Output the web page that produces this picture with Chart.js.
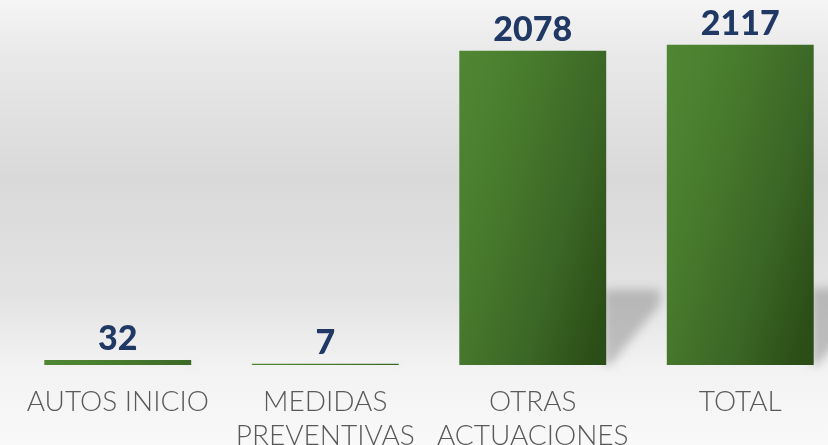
<!DOCTYPE html>
<html>
<head>
<meta charset="utf-8">
<script src="https://cdn.jsdelivr.net/npm/chart.js@4/dist/chart.umd.min.js"></script>
<style>
  html, body { margin: 0; padding: 0; overflow: hidden; background: #f5f5f5; }
  #wrap { width: 828px; height: 445px; overflow: hidden; }
</style>
</head>
<body>
<div id="wrap"><canvas id="myChart" width="844" height="473"></canvas></div>
<script>
// datos del gráfico
const categories = [['AUTOS INICIO'], ['MEDIDAS', 'PREVENTIVAS'], ['OTRAS', 'ACTUACIONES'], ['TOTAL']];
const values = [32, 7, 2078, 2117];

// fondo degradado gris
const backgroundPlugin = {
  id: 'fondo',
  beforeDraw(chart) {
    const ctx = chart.ctx;
    const h = 445;
    const g = ctx.createLinearGradient(0, 0, 0, h);
    g.addColorStop(0, '#f5f5f5');
    g.addColorStop(0.12, '#e9e9e9');
    g.addColorStop(0.40, '#d9d9d9');
    g.addColorStop(0.67, '#e3e3e3');
    g.addColorStop(0.82, '#f2f2f2');
    g.addColorStop(1, '#f9f9f9');
    ctx.save();
    ctx.fillStyle = g;
    ctx.fillRect(0, 0, chart.width, chart.height);
    ctx.restore();
  }
};

// sombra proyectada a la derecha de cada barra
const shadowPlugin = {
  id: 'sombra',
  beforeDatasetsDraw(chart) {
    const ctx = chart.ctx;
    const meta = chart.getDatasetMeta(0);
    ctx.save();
    ctx.filter = 'blur(5px)';
    ctx.fillStyle = 'rgba(140,140,140,0.5)';
    meta.data.forEach(bar => {
      const right = bar.x + bar.width / 2;
      const hgt = bar.base - bar.y;
      const sh = hgt * 0.24;
      const sw = hgt * 0.17;
      ctx.beginPath();
      ctx.moveTo(right - 2, bar.base);
      ctx.lineTo(right - 2, bar.base - sh);
      ctx.lineTo(right + sw, bar.base - sh);
      ctx.lineTo(right + sw, bar.base - sh * 0.8);
      ctx.lineTo(right + 4, bar.base);
      ctx.closePath();
      ctx.fill();
    });
    ctx.restore();
  }
};

// etiquetas de valor encima de las barras
const labelPlugin = {
  id: 'valores',
  afterDatasetsDraw(chart) {
    const ctx = chart.ctx;
    const meta = chart.getDatasetMeta(0);
    ctx.save();
    ctx.fillStyle = '#1f3864';
    ctx.font = '900 34px Lato, "Noto Sans", sans-serif';
    ctx.textAlign = 'center';
    ctx.textBaseline = 'alphabetic';
    meta.data.forEach((bar, i) => {
      ctx.fillText(String(values[i]), bar.x, bar.y - 10);
    });
    ctx.restore();
  }
};

function barGradient(context) {
  const chart = context.chart;
  if (!chart.chartArea) return '#3f6f25';
  const xs = chart.scales.x, ys = chart.scales.y;
  const cx = xs.getPixelForValue(context.dataIndex);
  const w = 147;
  const top = ys.getPixelForValue(values[context.dataIndex]);
  const left = cx - w / 2;
  const g = chart.ctx.createLinearGradient(left, top, left + w * 1.4, top + w * 0.4);
  g.addColorStop(0, '#508733');
  g.addColorStop(0.3, '#497d2e');
  g.addColorStop(0.7, '#3b6625');
  g.addColorStop(1, '#2b4d17');
  return g;
}

const ctx = document.getElementById('myChart').getContext('2d');
new Chart(ctx, {
  type: 'bar',
  data: {
    labels: categories,
    datasets: [{
      data: values,
      backgroundColor: barGradient,
      borderWidth: 0,
      barPercentage: 0.708,
      categoryPercentage: 1
    }]
  },
  options: {
    responsive: false,
    animation: false,
    layout: { padding: { left: 14, right: 0, top: 2, bottom: 0 } },
    plugins: {
      legend: { display: false },
      tooltip: { enabled: false }
    },
    scales: {
      x: {
        grid: { display: false, drawTicks: false },
        border: { display: false },
        ticks: {
          color: '#595959',
          padding: 21,
          maxRotation: 0,
          autoSkip: false,
          font: { family: 'Lato, "Noto Sans", sans-serif', size: 28, weight: '300', lineHeight: 1.18 }
        }
      },
      y: {
        display: false,
        min: 0,
        max: 2400,
        beginAtZero: true
      }
    }
  },
  plugins: [backgroundPlugin, shadowPlugin, labelPlugin]
});
</script>
</body>
</html>
